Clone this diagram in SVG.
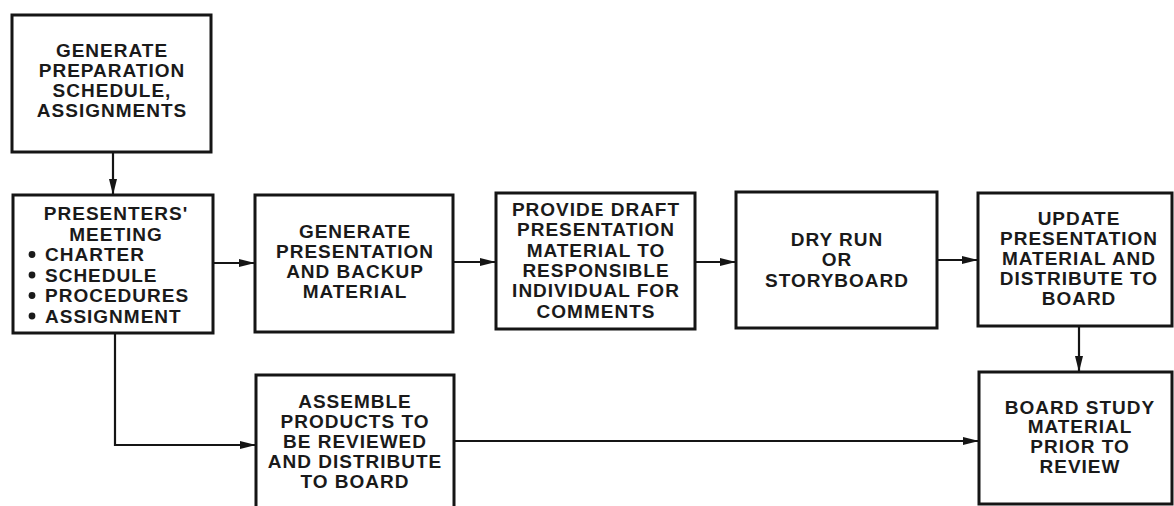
<svg xmlns="http://www.w3.org/2000/svg" width="1174" height="506" viewBox="0 0 1174 506">
<style>
.box{fill:#fff;stroke:#151515;stroke-width:3}
.t{font-family:"Liberation Sans",Arial,sans-serif;font-weight:bold;font-size:19px;letter-spacing:1px;fill:#1a1a1a;text-anchor:middle}
.l{text-anchor:start}
.c{fill:none;stroke:#151515;stroke-width:2.2}
</style>
<defs>
<marker id="ah" markerUnits="userSpaceOnUse" markerWidth="16" markerHeight="10" refX="16" refY="5" orient="auto">
<path d="M0,1 L16,5 L0,9 Z" fill="#151515"/>
</marker>
</defs>
<rect width="1174" height="506" fill="#fff"/>
<g id="connectors">
<line class="c" x1="113" y1="152" x2="113" y2="195" marker-end="url(#ah)"/>
<line class="c" x1="213" y1="263" x2="255" y2="263" marker-end="url(#ah)"/>
<line class="c" x1="453" y1="262" x2="496" y2="262" marker-end="url(#ah)"/>
<line class="c" x1="695" y1="262" x2="736" y2="262" marker-end="url(#ah)"/>
<line class="c" x1="937" y1="260" x2="978" y2="260" marker-end="url(#ah)"/>
<line class="c" x1="1079" y1="326" x2="1079" y2="372" marker-end="url(#ah)"/>
<polyline class="c" points="115,333 115,445 256,445" marker-end="url(#ah)"/>
<line class="c" x1="454" y1="441" x2="979" y2="441" marker-end="url(#ah)"/>
</g>
<g id="n1">
<rect class="box" x="12" y="15" width="199" height="137"/>
<text class="t" x="112" y="57">GENERATE</text>
<text class="t" x="112" y="77">PREPARATION</text>
<text class="t" x="112" y="97">SCHEDULE,</text>
<text class="t" x="112" y="117">ASSIGNMENTS</text>
</g>
<g id="n2">
<rect class="box" x="13" y="195" width="200" height="138"/>
<text class="t" x="116" y="220">PRESENTERS'</text>
<text class="t" x="116" y="240.5">MEETING</text>
<circle cx="32" cy="254.5" r="3.4" fill="#1a1a1a"/>
<circle cx="32" cy="275" r="3.4" fill="#1a1a1a"/>
<circle cx="32" cy="295.5" r="3.4" fill="#1a1a1a"/>
<circle cx="32" cy="316" r="3.4" fill="#1a1a1a"/>
<text class="t l" x="45" y="261">CHARTER</text>
<text class="t l" x="45" y="281.5">SCHEDULE</text>
<text class="t l" x="45" y="302">PROCEDURES</text>
<text class="t l" x="45" y="322.5">ASSIGNMENT</text>
</g>
<g id="n3">
<rect class="box" x="255" y="195" width="198" height="137"/>
<text class="t" x="355" y="238">GENERATE</text>
<text class="t" x="355" y="258">PRESENTATION</text>
<text class="t" x="355" y="278">AND BACKUP</text>
<text class="t" x="355" y="298">MATERIAL</text>
</g>
<g id="n4">
<rect class="box" x="496" y="193" width="199" height="136"/>
<text class="t" x="596" y="216">PROVIDE DRAFT</text>
<text class="t" x="596" y="236">PRESENTATION</text>
<text class="t" x="596" y="257">MATERIAL TO</text>
<text class="t" x="596" y="277">RESPONSIBLE</text>
<text class="t" x="596" y="297">INDIVIDUAL FOR</text>
<text class="t" x="596" y="318">COMMENTS</text>
</g>
<g id="n5">
<rect class="box" x="736" y="192" width="201" height="136"/>
<text class="t" x="837" y="246">DRY RUN</text>
<text class="t" x="837" y="266">OR</text>
<text class="t" x="837" y="287">STORYBOARD</text>
</g>
<g id="n6">
<rect class="box" x="978" y="193" width="194" height="133"/>
<text class="t" x="1079" y="225">UPDATE</text>
<text class="t" x="1079" y="245">PRESENTATION</text>
<text class="t" x="1079" y="265">MATERIAL AND</text>
<text class="t" x="1079" y="285">DISTRIBUTE TO</text>
<text class="t" x="1079" y="305">BOARD</text>
</g>
<g id="n7">
<rect class="box" x="979" y="372" width="193" height="132"/>
<text class="t" x="1080" y="414">BOARD STUDY</text>
<text class="t" x="1080" y="433">MATERIAL</text>
<text class="t" x="1080" y="453">PRIOR TO</text>
<text class="t" x="1080" y="473">REVIEW</text>
</g>
<g id="n8">
<rect class="box" x="256" y="375" width="198" height="140"/>
<text class="t" x="355" y="408">ASSEMBLE</text>
<text class="t" x="355" y="428">PRODUCTS TO</text>
<text class="t" x="355" y="448">BE REVIEWED</text>
<text class="t" x="355" y="468">AND DISTRIBUTE</text>
<text class="t" x="355" y="488">TO BOARD</text>
</g>
</svg>
